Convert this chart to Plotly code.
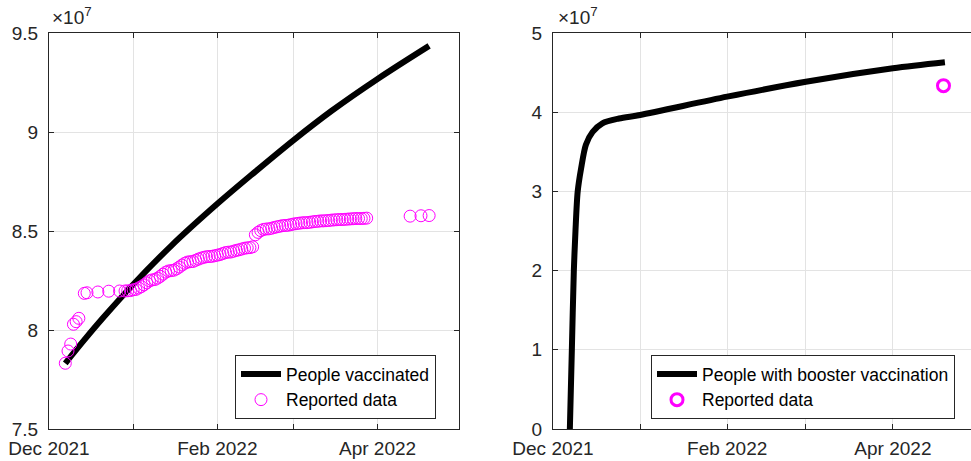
import plotly.graph_objects as go
import numpy as np

# ---------------- data (values in units of 1e7) ----------------
vacc_model_dates = ["2021-12-07", "2021-12-14", "2021-12-21", "2022-01-01", "2022-01-15",
                    "2022-02-01", "2022-02-15", "2022-03-01", "2022-03-15", "2022-04-01",
                    "2022-04-20"]
vacc_model_vals = [7.832, 7.950, 8.063, 8.230, 8.425, 8.637, 8.800, 8.958, 9.106, 9.268, 9.435]

vacc_rep_dates = (
    ["2021-12-07", "2021-12-08", "2021-12-09", "2021-12-10", "2021-12-11", "2021-12-12",
     "2021-12-14", "2021-12-15", "2021-12-19", "2021-12-23", "2021-12-27", "2021-12-29",
     "2021-12-30", "2021-12-31"]
    + [f"2022-01-{d:02d}" for d in range(1, 32)]
    + [f"2022-02-{d:02d}" for d in range(1, 29)]
    + [f"2022-03-{d:02d}" for d in range(1, 29)]
    + ["2022-04-13", "2022-04-17", "2022-04-20"]
)
vacc_rep_vals = [
    7.832, 7.894, 7.929, 8.029, 8.042, 8.059, 8.185, 8.188, 8.192, 8.196, 8.197, 8.197, 8.198, 8.199,
    # January
    8.203, 8.205, 8.212, 8.219, 8.228, 8.238, 8.248, 8.253, 8.255, 8.262, 8.271, 8.282, 8.292, 8.298,
    8.300, 8.302, 8.309, 8.318, 8.328, 8.337, 8.343, 8.345, 8.346, 8.352, 8.358, 8.363, 8.367, 8.370,
    8.371, 8.372, 8.375,
    # February
    8.378, 8.381, 8.386, 8.391, 8.393, 8.394, 8.398, 8.402, 8.405, 8.409, 8.413, 8.415, 8.416, 8.420,
    8.481, 8.493, 8.502, 8.508, 8.510, 8.511, 8.514, 8.518, 8.521, 8.524, 8.527, 8.528, 8.529, 8.532,
    # March
    8.535, 8.537, 8.539, 8.541, 8.542, 8.542, 8.544, 8.546, 8.548, 8.549, 8.551, 8.551, 8.552, 8.553,
    8.555, 8.556, 8.557, 8.558, 8.558, 8.559, 8.560, 8.561, 8.562, 8.563, 8.563, 8.563, 8.564, 8.565,
    # April
    8.575, 8.577, 8.578,
]

boost_model_dates = ["2021-12-07 00:00", "2021-12-07 17:00", "2021-12-08 10:00", "2021-12-09 00:00",
                     "2021-12-09 19:00", "2021-12-11 00:00", "2021-12-12 17:00", "2021-12-15 02:00",
                     "2021-12-18 14:00", "2021-12-24 12:00", "2022-01-01", "2022-02-01",
                     "2022-03-01", "2022-04-01", "2022-04-19 12:00"]
boost_model_vals = [0.0, 1.0, 2.0, 2.5, 3.0, 3.29, 3.59, 3.75, 3.86, 3.92, 3.965, 4.196,
                    4.385, 4.554, 4.630]

boost_rep_dates = ["2022-04-19"]
boost_rep_vals = [4.335]

month_ticks = ["2021-12-01", "2022-01-01", "2022-02-01", "2022-03-01", "2022-04-01", "2022-05-01"]
month_text = ["Dec 2021", "", "Feb 2022", "", "Apr 2022", ""]
y1_ticks = [7.5, 8.0, 8.5, 9.0, 9.5]
y1_text = ["7.5", "8", "8.5", "9", "9.5"]
y2_ticks = [0, 1, 2, 3, 4, 5]
y2_text = ["0", "1", "2", "3", "4", "5"]

SCALE = 1e7
MAG = "#ff00ff"
AX = "#262626"
GRID = "#e3e3e3"
FONT = "Liberation Sans, Arial, sans-serif"

fig = go.Figure()
fig.add_trace(go.Scatter(x=vacc_model_dates, y=np.array(vacc_model_vals) * SCALE, mode="lines",
                         line=dict(color="black", width=6, shape="spline", smoothing=1.0),
                         name="People vaccinated", xaxis="x", yaxis="y", legend="legend"))
fig.add_trace(go.Scatter(x=vacc_rep_dates, y=np.array(vacc_rep_vals) * SCALE, mode="markers",
                         marker=dict(symbol="circle-open", size=12, color=MAG, line=dict(width=1, color=MAG)),
                         name="Reported data", xaxis="x", yaxis="y", legend="legend"))
fig.add_trace(go.Scatter(x=boost_model_dates, y=np.array(boost_model_vals) * SCALE, mode="lines",
                         line=dict(color="black", width=6, shape="spline", smoothing=0.8),
                         name="People with booster vaccination", xaxis="x2", yaxis="y2", legend="legend2"))
fig.add_trace(go.Scatter(x=boost_rep_dates, y=np.array(boost_rep_vals) * SCALE, mode="markers",
                         marker=dict(symbol="circle-open", size=12, color=MAG, line=dict(width=3, color=MAG)),
                         name="Reported data", xaxis="x2", yaxis="y2", legend="legend2"))

W, H = 971, 461
ydom = [(H - 429) / H, (H - 33) / H]

common_x = dict(type="date", tickmode="array", tickvals=month_ticks, ticktext=month_text,
                showgrid=True, gridcolor=GRID, gridwidth=1, zeroline=False, automargin=False,
                showline=True, linecolor=AX, linewidth=1, ticks="inside", ticklen=5,
                tickcolor=AX, tickfont=dict(size=19, color=AX, family=FONT),
                ticklabelstandoff=2)
common_y = dict(tickmode="array", showgrid=True, gridcolor=GRID, gridwidth=1, zeroline=False,
                automargin=False,
                showline=True, linecolor=AX, linewidth=1, ticks="inside", ticklen=5,
                tickcolor=AX, tickfont=dict(size=19, color=AX, family=FONT),
                ticklabelstandoff=6)

fig.update_layout(
    width=W, height=H, margin=dict(l=0, r=0, t=0, b=0, autoexpand=False),
    paper_bgcolor="white", plot_bgcolor="white",
    font=dict(family=FONT, color="black"),
    xaxis=dict(domain=[49 / W, 459 / W], range=["2021-12-01", "2022-05-01"], anchor="y",
               mirror="ticks", **common_x),
    yaxis=dict(domain=ydom, range=[7.5 * SCALE, 9.5 * SCALE], anchor="x",
               tickvals=[v * SCALE for v in y1_ticks], ticktext=y1_text, mirror="ticks", **common_y),
    xaxis2=dict(domain=[553 / W, 1.0], range=["2021-12-01", "2022-04-28 19:00"], anchor="y2",
                mirror="ticks", **common_x),
    yaxis2=dict(domain=ydom, range=[0, 5 * SCALE], anchor="x2",
                tickvals=[v * SCALE for v in y2_ticks], ticktext=y2_text, mirror=False, **common_y),
    legend=dict(x=235 / W, y=(H - 355) / H, xanchor="left", yanchor="top",
                bgcolor="white", bordercolor=AX, borderwidth=1,
                font=dict(size=17.5, family=FONT, color="black"), itemwidth=40),
    legend2=dict(x=651 / W, y=(H - 355) / H, xanchor="left", yanchor="top",
                 bgcolor="white", bordercolor=AX, borderwidth=1,
                 font=dict(size=17.5, family=FONT, color="black"), itemwidth=40),
    showlegend=True,
)

for xpos in (50 / W, 556 / W):
    fig.add_annotation(x=xpos, y=(H - 30) / H, xref="paper", yref="paper", xanchor="left",
                       yanchor="bottom", showarrow=False, text="×10<sup>7</sup>",
                       font=dict(size=19, family=FONT, color=AX))

fig.write_html("out.html")
